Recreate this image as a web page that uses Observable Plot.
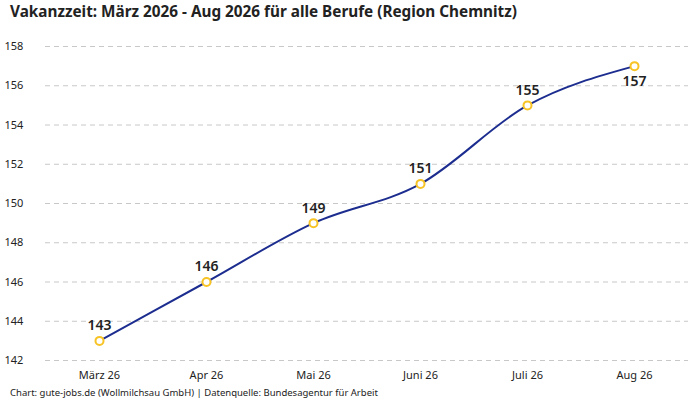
<!DOCTYPE html>
<html>
<head>
<meta charset="utf-8">
<script src="https://cdn.jsdelivr.net/npm/d3@7"></script>
<script src="https://cdn.jsdelivr.net/npm/@observablehq/plot@0.6"></script>
<style>
  html, body { margin: 0; padding: 0; background: #fff; }
  body { width: 700px; height: 400px; font-family: "Noto Sans", sans-serif; position: relative; overflow: hidden; }
  #title { position: absolute; left: 10px; top: 0px; font-size: 15.3px; font-weight: 700; color: #222; line-height: 22px; }
  #chart { position: absolute; left: 0; top: 26px; }
  #caption { position: absolute; left: 10px; top: 386px; font-size: 9.5px; color: #222; line-height: 14px; }
</style>
</head>
<body>
<div id="title">Vakanzzeit: März 2026 - Aug 2026 für alle Berufe (Region Chemnitz)</div>
<div id="chart"></div>
<div id="caption">Chart: gute-jobs.de (Wollmilchsau GmbH) | Datenquelle: Bundesagentur für Arbeit</div>
<script>
const months = ["März 26", "Apr 26", "Mai 26", "Juni 26", "Juli 26", "Aug 26"];
const values = [143, 146, 149, 151, 155, 157];
const yTicks = [142, 144, 146, 148, 150, 152, 154, 156, 158];

const data = months.map((m, i) => ({month: m, value: values[i], last: i === months.length - 1}));

const chart = Plot.plot({
  width: 700,
  height: 358,
  marginTop: 20,
  marginBottom: 24,
  marginLeft: 45,
  marginRight: 12,
  style: {fontFamily: "Noto Sans, sans-serif", fontSize: "11px", color: "#222", background: "transparent"},
  x: {type: "point", domain: months, padding: 0.48, label: null},
  y: {domain: [142, 158], label: null},
  marks: [
    Plot.gridY(yTicks, {stroke: "#c8c8c8", strokeOpacity: 1, strokeDasharray: "5,4", strokeWidth: 1}),
    Plot.axisY(yTicks, {tickSize: 0, textAnchor: "start", dx: -32, label: null, fontSize: 11}),
    Plot.axisX(months, {tickSize: 0, tickPadding: 11, label: null, fontSize: 11}),
    Plot.line(data, {x: "month", y: "value", stroke: "#1c2d8f", strokeWidth: 2, curve: "monotone-x"}),
    Plot.dot(data, {x: "month", y: "value", r: 4, stroke: "#f7c325", strokeWidth: 2, fill: "white"}),
    Plot.text(data.filter(d => !d.last), {x: "month", y: "value", text: d => String(d.value), dy: -15, fontSize: 14, fontWeight: 600, fill: "#222"}),
    Plot.text(data.filter(d => d.last), {x: "month", y: "value", text: d => String(d.value), dy: 15, fontSize: 14, fontWeight: 600, fill: "#222"})
  ]
});
document.getElementById("chart").appendChild(chart);
</script>
</body>
</html>
